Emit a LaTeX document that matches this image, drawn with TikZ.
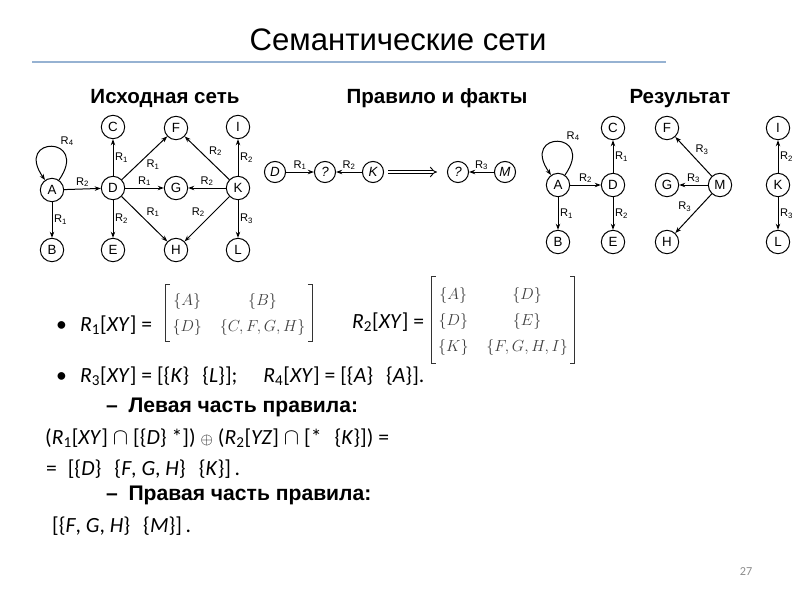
\documentclass[tikz,border=0pt]{standalone}
\usepackage{fontspec}
\setmainfont{Carlito}
\newfontfamily\headfont{Liberation Sans}
\usepackage{amsmath}
\usetikzlibrary{arrows.meta, positioning}
\definecolor{ruleblue}{RGB}{150, 178, 210}
\definecolor{numgray}{RGB}{140, 140, 140}
\renewcommand{\arraystretch}{1.3}
\newcommand{\Rel}[2]{\textit{R}\textsubscript{#1}[\textit{#2}]}
\newcommand{\Rlab}[1]{R\textsubscript{#1}}
\tikzset{
  vert/.style={draw, circle, line width=0.9pt, minimum size=21pt, inner sep=0pt, font=\headfont\fontsize{12}{12}\selectfont},
  qvert/.style={vert, minimum size=19pt, font=\headfont\itshape\fontsize{12}{12}\selectfont},
  rel/.style={-{Stealth[length=5.5pt, width=4pt]}, line width=0.9pt},
  lbl/.style={font=\headfont\fontsize{10}{10}\selectfont, inner sep=1.5pt},
  head/.style={anchor=base, font=\headfont\bfseries\fontsize{18.5}{20}\selectfont},
  body/.style={anchor=base west, inner sep=0pt, font=\fontsize{19.5}{22}\selectfont},
  sub/.style={anchor=base west, inner sep=0pt, font=\headfont\bfseries\fontsize{19}{22}\selectfont},
  mat/.style={inner xsep=6pt, inner ysep=2pt, font=\fontsize{15.5}{18}\selectfont, text=black!75},
  brk/.style={line width=0.7pt, black!80}
}
\begin{document}
\begin{tikzpicture}[x=0.9pt, y=-0.9pt]
  \useasboundingbox (0,0) rectangle (800,600);

  % title and captions
  \node[font=\headfont\fontsize{28}{32}\selectfont] (title) at (398,40) {Семантические сети};
  \draw[ruleblue, line width=1pt] (32,62) -- (666,62);
  \node[head] (hsrc) at (165,103) {Исходная сеть};
  \node[head] (hrule) at (437,103) {Правило и факты};
  \node[head] (hres) at (680,103) {Результат};

  % initial network
  \node[vert] (A) at (52,190) {A};
  \node[vert] (B) at (52,250) {B};
  \node[vert] (C) at (113,127) {C};
  \node[vert] (D) at (113,188) {D};
  \node[vert] (E) at (113,250) {E};
  \node[vert] (F) at (176,128) {F};
  \node[vert] (G) at (176,188) {G};
  \node[vert] (H) at (176,250) {H};
  \node[vert] (I) at (238,127) {I};
  \node[vert] (K) at (238,188) {K};
  \node[vert] (L) at (238,250) {L};
  \draw[rel] (A) to[out=55, in=125, looseness=10, min distance=33pt] node[lbl, pos=.4, above right] {\Rlab{4}} (A);
  \draw[rel] (A) -- node[lbl, above] {\Rlab{2}} (D);
  \draw[rel] (A) -- node[lbl, right] {\Rlab{1}} (B);
  \draw[rel] (D) -- node[lbl, right] {\Rlab{1}} (C);
  \draw[rel] (D) -- node[lbl, right] {\Rlab{2}} (E);
  \draw[rel] (D) -- node[lbl, above] {\Rlab{1}} (G);
  \draw[rel] (D) -- node[lbl, below right] {\Rlab{1}} (F);
  \draw[rel] (D) -- node[lbl, above right] {\Rlab{1}} (H);
  \draw[rel] (K) -- node[lbl, above right] {\Rlab{2}} (F);
  \draw[rel] (K) -- node[lbl, right] {\Rlab{2}} (I);
  \draw[rel] (K) -- node[lbl, above] {\Rlab{2}} (G);
  \draw[rel] (K) -- node[lbl, above left] {\Rlab{2}} (H);
  \draw[rel] (K) -- node[lbl, right] {\Rlab{3}} (L);

  % rule and facts
  \node[qvert] (mD) at (275,172) {D};
  \node[qvert] (Q1) at (325,172) {?};
  \node[qvert] (mK) at (373,172) {K};
  \node[qvert] (Q2) at (458,172) {?};
  \node[qvert] (mM) at (505,172) {M};
  \draw[rel] (mD) -- node[lbl, above] {\Rlab{1}} (Q1);
  \draw[rel] (mK) -- node[lbl, above] {\Rlab{2}} (Q1);
  \draw[rel] (mM) -- node[lbl, above] {\Rlab{3}} (Q2);
  \coordinate (impA) at (388,172);
  \coordinate (impB) at (437,172);
  \draw[double, double distance=2.5pt, line width=0.8pt, -{Implies}] (impA) -- (impB);

  % result
  \node[vert] (rA) at (558,185) {A};
  \node[vert] (rB) at (558,242) {B};
  \node[vert] (rC) at (613,128) {C};
  \node[vert] (rD) at (613,185) {D};
  \node[vert] (rE) at (613,242) {E};
  \node[vert] (rF) at (667,128) {F};
  \node[vert] (rG) at (667,185) {G};
  \node[vert] (rH) at (667,242) {H};
  \node[vert] (rM) at (720,185) {M};
  \node[vert] (rI) at (778,128) {I};
  \node[vert] (rK) at (778,185) {K};
  \node[vert] (rL) at (778,242) {L};
  \draw[rel] (rA) to[out=55, in=125, looseness=10, min distance=33pt] node[lbl, pos=.4, above right] {\Rlab{4}} (rA);
  \draw[rel] (rA) -- node[lbl, above] {\Rlab{2}} (rD);
  \draw[rel] (rA) -- node[lbl, right] {\Rlab{1}} (rB);
  \draw[rel] (rD) -- node[lbl, right] {\Rlab{1}} (rC);
  \draw[rel] (rD) -- node[lbl, right] {\Rlab{2}} (rE);
  \draw[rel] (rM) -- node[lbl, above right] {\Rlab{3}} (rF);
  \draw[rel] (rM) -- node[lbl, above] {\Rlab{3}} (rG);
  \draw[rel] (rM) -- node[lbl, above left] {\Rlab{3}} (rH);
  \draw[rel] (rK) -- node[lbl, right] {\Rlab{2}} (rI);
  \draw[rel] (rK) -- node[lbl, right] {\Rlab{3}} (rL);

  % relations as matrices
  \node[body] (b1) at (56,331) {•};
  \node[body] (r1) at (80,331) {\Rel{1}{XY} =};
  \node[mat] (m1) at (239,313) {$\begin{array}{@{}c@{\hspace{16pt}}c@{}}
    \{A\} & \{B\} \\ \{D\} & \{C,F,G,H\} \end{array}$};
  \draw[brk] ([xshift=4pt]m1.north west) -- (m1.north west) -- (m1.south west) -- ([xshift=4pt]m1.south west);
  \draw[brk] ([xshift=-4pt]m1.north east) -- (m1.north east) -- (m1.south east) -- ([xshift=-4pt]m1.south east);
  \node[body] (r2) at (352,328) {\Rel{2}{XY} =};
  \node[mat, inner ysep=4pt] (m2) at (503,320) {$\begin{array}{@{}c@{\hspace{16pt}}c@{}}
    \{A\} & \{D\} \\ \{D\} & \{E\} \\ \{K\} & \{F,G,H,I\} \end{array}$};
  \draw[brk] ([xshift=4pt]m2.north west) -- (m2.north west) -- (m2.south west) -- ([xshift=4pt]m2.south west);
  \draw[brk] ([xshift=-4pt]m2.north east) -- (m2.north east) -- (m2.south east) -- ([xshift=-4pt]m2.south east);

  % text lines
  \node[body] (b2) at (56,382) {•};
  \node[body] (r34) at (80,382) {\Rel{3}{XY} = [\{\textit{K}\}\hspace{0.6em}\{\textit{L}\}];\hspace{1.2em}\Rel{4}{XY} = [\{\textit{A}\}\hspace{0.6em}\{\textit{A}\}].};
  \node[sub] (left) at (106,412) {–\hspace{0.5em}Левая часть правила:};
  \node[body] (f1) at (45,444) {(\Rel{1}{XY} $\cap$ [\{\textit{D}\} *]) $\scriptstyle\oplus$ (\Rel{2}{YZ} $\cap$ [*\hspace{0.6em}\{\textit{K}\}]) =};
  \node[body] (f2) at (46,475) {=\hspace{0.5em}[\{\textit{D}\}\hspace{0.6em}\{\textit{F}, \textit{G}, \textit{H}\}\hspace{0.6em}\{\textit{K}\}]\,.};
  \node[sub] (right) at (106,500) {–\hspace{0.5em}Правая часть правила:};
  \node[body] (f3) at (52,532) {[\{\textit{F}, \textit{G}, \textit{H}\}\hspace{0.6em}\{\textit{M}\}]\,.};

  \node[text=numgray, font=\fontsize{11}{12}\selectfont] (pg) at (746,572) {27};
\end{tikzpicture}
\end{document}
